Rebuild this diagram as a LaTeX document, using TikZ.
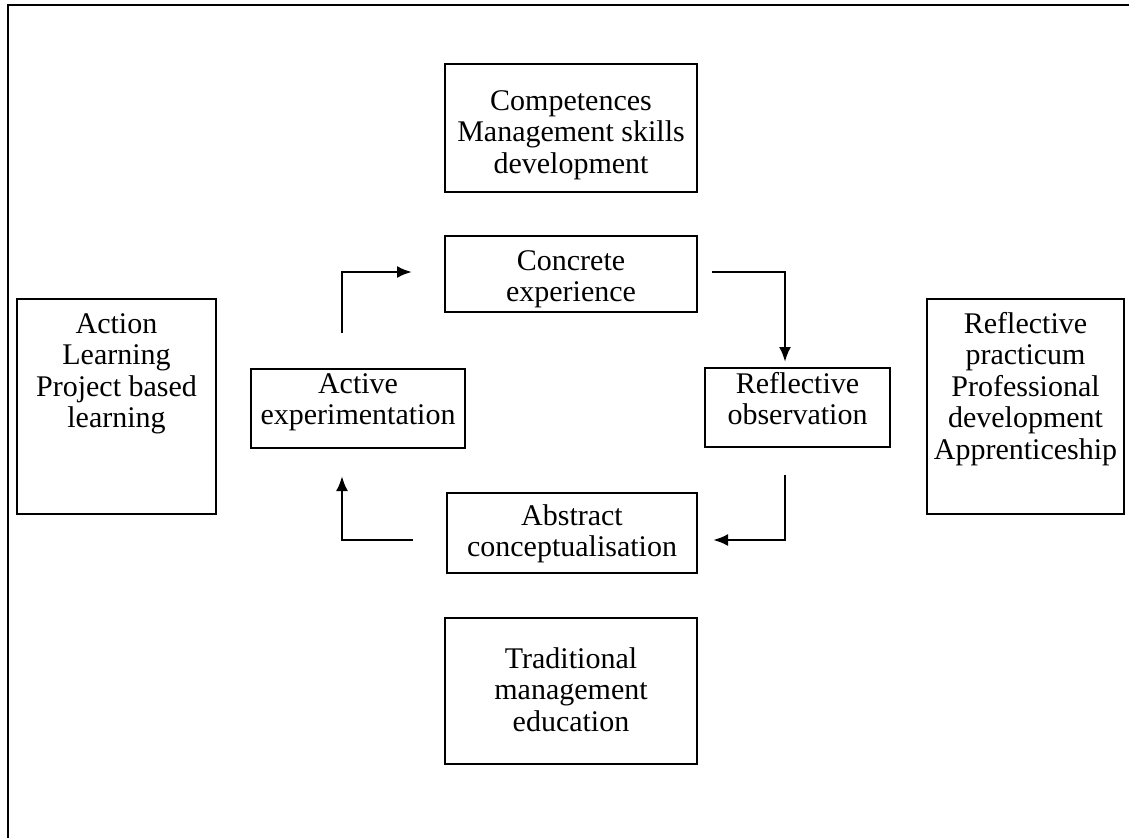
\documentclass[tikz,border=0pt]{standalone}
\usepackage{fontspec}
\setmainfont{Liberation Serif}
\usetikzlibrary{arrows.meta}
\begin{document}
\begin{tikzpicture}[x=1pt,y=-1pt,
  box/.style={draw=black, line width=2.6pt, inner sep=0pt},
  txt/.style={inner sep=0pt, align=center, anchor=north,
    font=\fontsize{30}{31.5}\selectfont},
  flow/.style={line width=2.5pt, -{Latex[length=15pt,width=12pt]}},
  frame/.style={line width=2.8pt}]
\useasboundingbox (0,0) rectangle (1129,838);
% outer frame (top and left edges)
\coordinate (ftr) at (1129,5);
\coordinate (ftl) at (8,5);
\coordinate (fbl) at (8,838);
\draw[frame] (ftr) -- (ftl) -- (fbl);

% boxes
\node[box, minimum width=252pt, minimum height=128pt] (comp) at (571,128) {};
\node[txt] (compT) at (571,88) {\strut Competences\\Management skills\\development};
\node[box, minimum width=252pt, minimum height=76pt] (ce) at (571,274) {};
\node[txt] (ceT) at (571,248) {\strut Concrete\\experience};
\node[box, minimum width=214pt, minimum height=79pt] (ae) at (358,408.5) {};
\node[txt] (aeT) at (358,371) {\strut Active\\experimentation};
\node[box, minimum width=185pt, minimum height=79pt] (ro) at (797.5,407.5) {};
\node[txt] (roT) at (797.5,371) {\strut Reflective\\observation};
\node[box, minimum width=250pt, minimum height=80pt] (ac) at (572,533) {};
\node[txt] (acT) at (572,503) {\strut Abstract\\conceptualisation};
\node[box, minimum width=252pt, minimum height=146pt] (tme) at (571,691) {};
\node[txt] (tmeT) at (571,646) {\strut Traditional\\management\\education};
\node[box, minimum width=199pt, minimum height=215pt] (al) at (116.5,406.5) {};
\node[txt] (alT) at (116.5,311) {\strut Action\\Learning\\Project based\\learning};
\node[box, minimum width=197pt, minimum height=215pt] (rp) at (1025.5,406.5) {};
\node[txt] (rpT) at (1025.5,311)
  {\strut Reflective\\practicum\\Professional\\development\\Apprenticeship};

% cycle arrows
\coordinate (a1s) at (342,333);
\coordinate (a1c) at (342,272);
\coordinate (a1e) at (412,272);
\draw[flow] (a1s) -- (a1c) -- (a1e);
\coordinate (a2s) at (712,272);
\coordinate (a2c) at (785,272);
\coordinate (a2e) at (785,362);
\draw[flow] (a2s) -- (a2c) -- (a2e);
\coordinate (a3s) at (785,475);
\coordinate (a3c) at (785,540);
\coordinate (a3e) at (713,540);
\draw[flow] (a3s) -- (a3c) -- (a3e);
\coordinate (a4s) at (413,540);
\coordinate (a4c) at (342,540);
\coordinate (a4e) at (342,476);
\draw[flow] (a4s) -- (a4c) -- (a4e);
\end{tikzpicture}
\end{document}
